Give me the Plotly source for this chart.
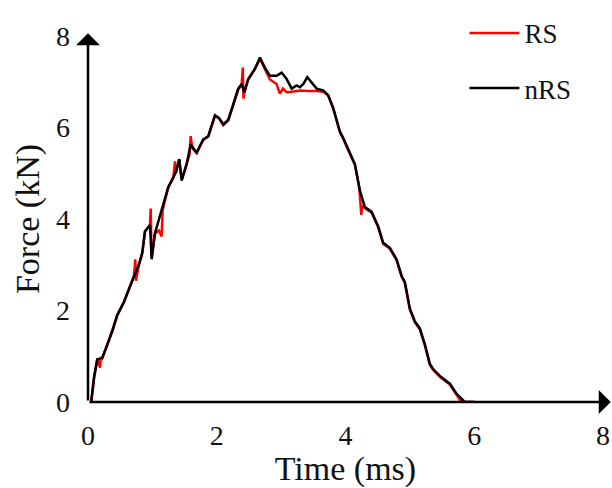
import plotly.graph_objects as go

# Time (ms) and Force (kN)
time_nrs = [0.05, 0.093, 0.144, 0.222, 0.300, 0.377, 0.455, 0.559, 0.637, 0.714,
            0.792, 0.843, 0.885, 0.963, 0.989, 1.040, 1.144, 1.247, 1.325, 1.366,
            1.418, 1.455, 1.533, 1.595, 1.688, 1.790, 1.868, 1.972, 2.034, 2.101,
            2.179, 2.256, 2.334, 2.387, 2.427, 2.489, 2.593, 2.671, 2.748, 2.826,
            2.930, 3.008, 3.085, 3.163, 3.241, 3.292, 3.344, 3.406, 3.474, 3.552,
            3.654, 3.732, 3.810, 3.913, 3.965, 4.042, 4.146, 4.224, 4.301, 4.405,
            4.508, 4.585, 4.689, 4.793, 4.871, 4.922, 5.000, 5.078, 5.155, 5.233,
            5.311, 5.362, 5.466, 5.621, 5.725, 5.854, 6.0]
force_nrs = [0.0, 0.54, 0.93, 0.97, 1.26, 1.54, 1.90, 2.19, 2.47, 2.76,
             3.01, 3.26, 3.73, 3.87, 3.12, 3.69, 4.19, 4.70, 4.91, 5.03,
             5.31, 4.84, 5.20, 5.63, 5.45, 5.74, 5.81, 6.27, 6.21, 6.07,
             6.17, 6.49, 6.85, 6.95, 6.77, 7.06, 7.28, 7.53, 7.31, 7.13,
             7.13, 7.20, 7.06, 6.85, 6.92, 6.88, 6.95, 7.10, 6.99, 6.85,
             6.81, 6.70, 6.42, 5.91, 5.77, 5.52, 5.20, 4.62, 4.26, 4.16,
             3.84, 3.48, 3.37, 3.12, 2.76, 2.62, 2.04, 1.76, 1.61, 1.26,
             0.83, 0.72, 0.57, 0.40, 0.18, 0.0, 0.0]

time_rs = [0.05, 0.093, 0.144, 0.17, 0.186, 0.20, 0.222, 0.300, 0.377, 0.455,
           0.559, 0.637, 0.714, 0.735, 0.745, 0.756, 0.792, 0.843, 0.885, 0.963,
           0.974, 0.989, 1.040, 1.10, 1.144, 1.16, 1.247, 1.325, 1.351, 1.366,
           1.418, 1.455, 1.533, 1.575, 1.595, 1.62, 1.688, 1.790, 1.868, 1.972,
           2.034, 2.101, 2.179, 2.256, 2.334, 2.387, 2.405, 2.415, 2.427, 2.489,
           2.593, 2.671, 2.748, 2.826, 2.930, 2.98, 3.03, 3.085, 3.163, 3.241,
           3.30, 3.42, 3.552, 3.654, 3.732, 3.810, 3.913, 3.965, 4.042, 4.146,
           4.215, 4.245, 4.26, 4.301, 4.405, 4.508, 4.585, 4.689, 4.793, 4.871,
           4.922, 5.000, 5.078, 5.155, 5.233, 5.311, 5.362, 5.466, 5.621, 5.70,
           5.80, 6.0]
force_rs = [0.0, 0.50, 0.95, 0.78, 0.75, 0.98, 0.95, 1.25, 1.55, 1.90,
            2.18, 2.46, 2.76, 3.12, 2.65, 2.75, 3.00, 3.25, 3.72, 3.86,
            4.23, 3.15, 3.68, 3.75, 3.62, 4.20, 4.69, 4.90, 5.26, 5.00,
            5.30, 4.86, 5.19, 5.40, 5.81, 5.55, 5.44, 5.73, 5.80, 6.25,
            6.20, 6.05, 6.15, 6.47, 6.83, 6.93, 7.31, 6.63, 6.75, 7.05,
            7.28, 7.50, 7.27, 7.05, 6.95, 6.74, 6.85, 6.77, 6.78, 6.80,
            6.81, 6.80, 6.80, 6.78, 6.70, 6.42, 5.90, 5.75, 5.50, 5.18,
            4.68, 4.09, 4.30, 4.24, 4.14, 3.82, 3.46, 3.35, 3.10, 2.74,
            2.60, 2.02, 1.74, 1.59, 1.24, 0.81, 0.70, 0.55, 0.38, 0.22,
            0.0, 0.0]

x_ticks = [0, 2, 4, 6, 8]
y_ticks = [0, 2, 4, 6, 8]

FONT = "Liberation Serif, Times New Roman, serif"

fig = go.Figure()
fig.add_trace(go.Scatter(x=time_rs, y=force_rs, mode="lines", name="RS",
                         legendgroup="a",
                         line=dict(color="#ff0000", width=2.5)))
fig.add_trace(go.Scatter(x=time_nrs, y=force_nrs, mode="lines", name="nRS",
                         legendgroup="b",
                         line=dict(color="#000000", width=2.5)))

# axis lines with arrowheads
fig.add_annotation(x=8.12, y=0, ax=0, ay=0, xref="x", yref="y", axref="x", ayref="y",
                   text="", showarrow=True, arrowhead=1, arrowsize=1.6,
                   arrowwidth=2.5, arrowcolor="#000000")
fig.add_annotation(x=0, y=8.06, ax=0, ay=0, xref="x", yref="y", axref="x", ayref="y",
                   text="", showarrow=True, arrowhead=1, arrowsize=1.6,
                   arrowwidth=2.5, arrowcolor="#000000")

fig.update_layout(
    width=612, height=488,
    margin=dict(l=88, r=9, t=30, b=86),
    paper_bgcolor="white", plot_bgcolor="white",
    font=dict(family=FONT, size=28, color="#111111"),
    showlegend=True,
    legend=dict(x=0.731, y=1.074, xanchor="left", yanchor="top",
                bgcolor="rgba(0,0,0,0)", tracegroupgap=17, itemwidth=50,
                font=dict(family=FONT, size=27)),
    xaxis=dict(range=[0, 8], tickvals=x_ticks, showgrid=False, zeroline=False,
               showline=False, ticks="", ticklabelstandoff=14, automargin=False,
               title=dict(text="Time (ms)", standoff=2)),
    yaxis=dict(range=[0, 8], tickvals=y_ticks, showgrid=False, zeroline=False,
               showline=False, ticks="", ticklabelstandoff=17, automargin=False,
               title=dict(text="Force (kN)", standoff=6)),
)

fig.write_html("out.html", config={"displayModeBar": False},
               post_script="document.body.style.margin='0';")
